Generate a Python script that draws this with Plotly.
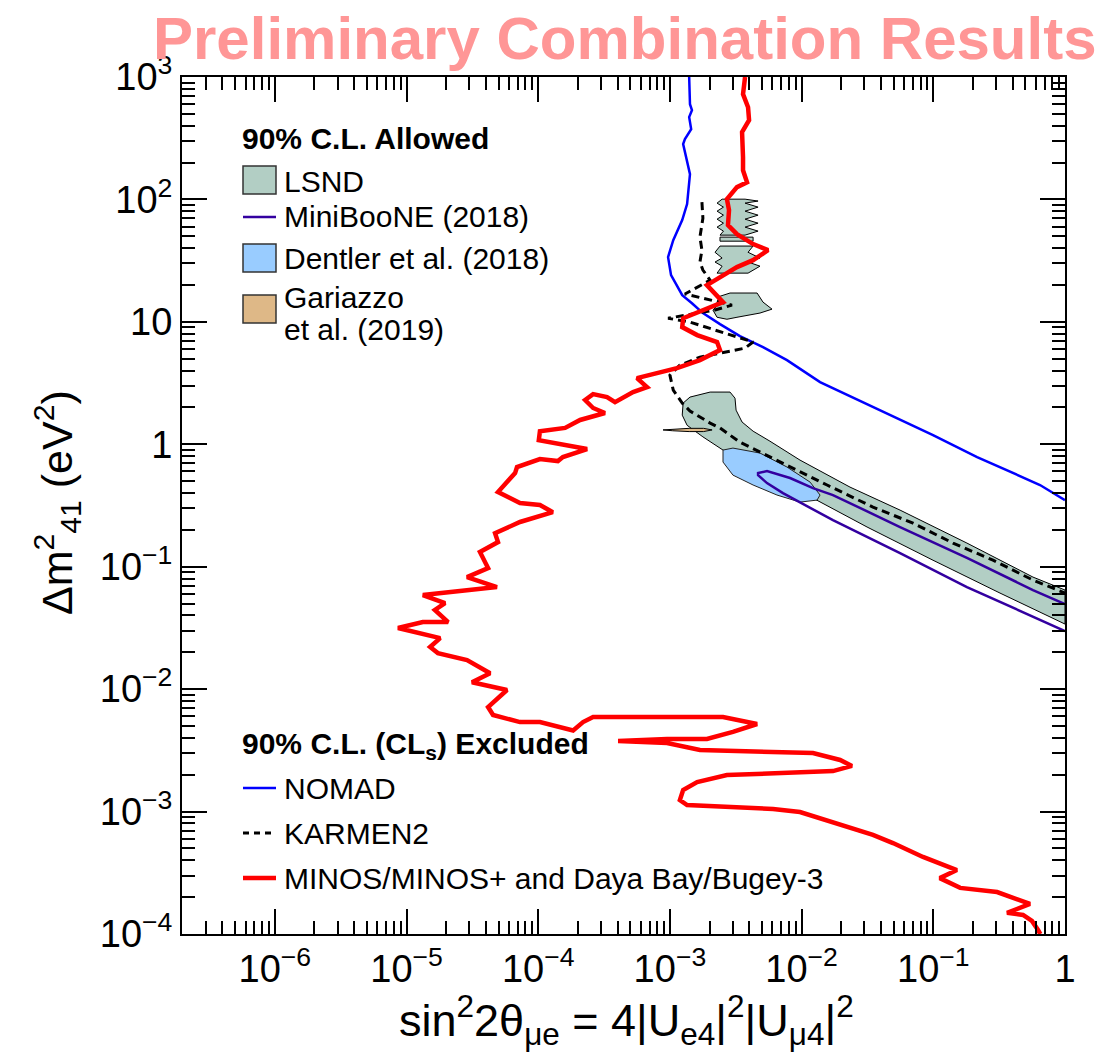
import plotly.graph_objects as go

FONT = "Liberation Sans, Arial, Helvetica, sans-serif"

# ---------------- data (sin^2 2theta, dm^2 [eV^2]) ----------------
minos_x = [3.72e-3, 3.59e-3, 3.92e-3, 3.99e-3, 3.53e-3, 3.59e-3, 3.59e-3, 3.59e-3, 3.85e-3, 3.23e-3,
           2.71e-3, 2.81e-3, 2.76e-3, 3.23e-3, 4.28e-3, 5.56e-3, 4.28e-3, 3.23e-3, 1.91e-3, 2.53e-3,
           1.69e-3, 1.26e-3, 1.24e-3, 1.61e-3, 2.28e-3, 2.40e-3, 1.69e-3, 1.13e-3, 5.62e-4, 6.70e-4,
           5.25e-4, 3.83e-4, 3.33e-4, 2.61e-4, 2.27e-4, 2.61e-4, 3.21e-4, 2.08e-4, 1.60e-4, 1.03e-4,
           1.01e-4, 1.39e-4, 2.35e-4, 1.54e-4, 1.41e-4, 1.03e-4, 6.90e-5, 6.67e-5, 4.95e-5, 7.27e-5,
           1.03e-4, 1.29e-4, 7.27e-5, 4.70e-5, 4.95e-5, 3.61e-5, 4.16e-5, 2.88e-5, 4.86e-5, 1.33e-5,
           1.96e-5, 1.64e-5, 2.07e-5, 1.33e-5, 8.61e-6, 1.80e-5, 1.51e-5, 1.73e-5, 2.88e-5, 4.31e-5,
           3.14e-5, 5.79e-5, 4.16e-5, 4.54e-5, 7.27e-5, 1.03e-4, 1.84e-4, 2.19e-4, 2.61e-4, 2.53e-3,
           4.59e-3, 3.01e-3, 1.91e-3, 9.51e-4, 4.04e-4, 9.51e-4, 1.69e-3, 1.22e-2, 1.96e-2, 2.41e-2,
           1.73e-2, 2.71e-3, 1.61e-3, 1.26e-3, 1.19e-3, 1.35e-3, 6.07e-3, 9.72e-3, 1.73e-2, 3.48e-2,
           4.94e-2, 8.35e-2, 0.151, 0.112, 0.160, 0.305, 0.542, 0.363, 0.480, 0.561,
           0.624, 0.65]
minos_y = [1000, 724, 567, 444, 355, 283, 221, 173, 138, 126,
           100.5, 81.8, 61.7, 52.1, 43.2, 38.5, 31.9, 28.0, 19.95, 14.5,
           12.0, 10.7, 9.06, 7.80, 6.84, 5.88, 4.87, 4.19, 3.47, 2.93,
           2.67, 2.21, 2.43, 2.57, 2.30, 1.98, 1.80, 1.58, 1.36, 1.28,
           1.08, 1.02, 0.914, 0.786, 0.729, 0.757, 0.652, 0.582, 0.407, 0.331,
           0.319, 0.279, 0.232, 0.188, 0.159, 0.132, 0.0975, 0.0823, 0.0682, 0.0587,
           0.0505, 0.0443, 0.0353, 0.0353, 0.0316, 0.0261, 0.0221, 0.0197, 0.0173, 0.0135,
           0.0114, 0.00984, 0.00714, 0.00615, 0.00538, 0.00538, 0.00460, 0.00538, 0.00592, 0.00592,
           0.00519, 0.00447, 0.00392, 0.00392, 0.00377, 0.00363, 0.00318, 0.00301, 0.00264, 0.00236,
           0.00214, 0.00199, 0.00174, 0.00150, 0.00124, 0.00113, 0.00105, 0.000991, 0.000822, 0.000644,
           0.000553, 0.000426, 0.000333, 0.000286, 0.000238, 0.000220, 0.000176, 0.000149, 0.000143, 0.000128,
           0.000108, 0.0001]

nomad_x = [1.40e-3, 1.42e-3, 1.47e-3, 1.40e-3, 1.45e-3, 1.30e-3, 1.26e-3, 1.35e-3, 1.42e-3, 1.35e-3,
           1.24e-3, 1.06e-3, 9.68e-4, 1.02e-3, 1.24e-3, 1.47e-3, 1.78e-3, 2.40e-3, 3.40e-3, 5.09e-3,
           7.74e-3, 1.38e-2, 5.59e-2, 9.95e-2, 0.215, 0.646, 1.0]
nomad_y = [1000, 600, 536, 470, 375, 311, 283, 209, 161, 91.6,
           67.8, 46.5, 33.8, 24.1, 16.5, 14.2, 11.8, 9.59, 7.65, 6.22,
           4.87, 3.22, 1.58, 1.19, 0.786, 0.465, 0.350]

karmen_x = [1.75e-3, 1.78e-3, 1.69e-3, 1.75e-3, 1.69e-3, 1.78e-3, 2.02e-3, 1.30e-3, 2.96e-3, 2.20e-3,
            9.68e-4, 1.42e-3, 4.28e-3, 3.72e-3, 1.69e-3, 1.19e-3, 1.00e-3, 1.06e-3, 1.24e-3, 1.42e-3,
            2.02e-3, 2.40e-3, 3.40e-3, 6.86e-3, 1.56e-2, 3.48e-2, 7.01e-2, 0.141, 0.284, 0.571,
            1.0]
karmen_y = [95.1, 70.3, 49.2, 38.5, 30.8, 26.5, 21.9, 16.9, 13.7, 12.5,
            10.7, 9.95, 6.84, 6.10, 5.15, 4.43, 3.67, 2.77, 2.17, 1.87,
            1.49, 1.36, 1.04, 0.716, 0.465, 0.307, 0.227, 0.156, 0.113, 0.0778,
            0.0609]

lsnd_band_x = [1.26e-3, 1.42e-3, 2.02e-3, 2.86e-3, 3.12e-3, 3.18e-3, 3.53e-3, 4.28e-3, 5.75e-3, 9.72e-3,
               2.33e-2, 5.59e-2, 0.180, 0.571, 1.0, 1.0, 0.321, 9.95e-2, 3.14e-2, 1.38e-2,
               2.53e-3, 1.78e-3, 1.35e-3, 1.24e-3, 1.26e-3]
lsnd_band_y = [2.17, 2.43, 2.67, 2.67, 2.38, 1.90, 1.52, 1.28, 1.06, 0.743,
               0.447, 0.290, 0.156, 0.0823, 0.0645, 0.0340, 0.0609, 0.113, 0.211, 0.337,
               0.897, 1.15, 1.43, 1.73, 2.17]

lsnd_mid_x = [2.28e-3, 2.86e-3, 4.59e-3, 5.09e-3, 5.96e-3, 4.83e-3, 3.23e-3, 2.71e-3, 2.28e-3, 2.12e-3, 2.40e-3, 2.28e-3]
lsnd_mid_y = [15.9, 17.2, 17.2, 14.5, 12.7, 11.8, 10.9, 10.5, 10.9, 12.5, 14.2, 15.9]

lsnd_top_x = [2.49e-3, 2.28e-3, 2.55e-3, 2.28e-3, 2.55e-3, 2.28e-3, 2.55e-3, 2.28e-3, 2.55e-3, 2.40e-3,
              3.72e-3, 4.67e-3, 3.72e-3, 4.67e-3, 3.72e-3, 4.67e-3, 3.72e-3, 4.67e-3, 3.72e-3, 4.67e-3,
              3.72e-3, 2.49e-3]
lsnd_top_y = [100.5, 93.3, 86.5, 80.2, 74.4, 69.0, 64.0, 59.4, 55.1, 51.1,
              51.1, 55.1, 59.4, 64.0, 69.0, 74.4, 80.2, 86.5, 93.3, 97.0,
              100.5, 100.5]

lsnd_thin_x = [2.40e-3, 4.28e-3, 4.28e-3, 2.40e-3, 2.40e-3]
lsnd_thin_y = [49.2, 49.2, 45.6, 45.6, 49.2]

lsnd_low_x = [2.40e-3, 2.20e-3, 2.49e-3, 2.20e-3, 2.49e-3, 2.28e-3, 3.92e-3, 4.83e-3, 3.92e-3, 4.83e-3, 3.92e-3, 4.28e-3, 2.40e-3]
lsnd_low_y = [41.6, 37.0, 33.2, 30.8, 28.5, 25.0, 25.0, 28.5, 30.8, 33.2, 37.0, 41.6, 41.6]

dentler_x = [2.53e-3, 3.01e-3, 4.83e-3, 7.74e-3, 1.16e-2, 1.38e-2, 1.31e-2, 9.72e-3, 6.50e-3, 4.28e-3, 3.01e-3, 2.53e-3, 2.53e-3]
dentler_y = [0.897, 0.931, 0.848, 0.652, 0.491, 0.385, 0.350, 0.337, 0.385, 0.465, 0.560, 0.716, 0.897]

miniboone_x = [1.0, 0.571, 0.180, 5.59e-2, 1.73e-2, 1.22e-2, 8.17e-3, 5.46e-3, 4.67e-3,
               4.67e-3, 5.46e-3, 7.22e-3, 1.73e-2, 5.59e-2, 0.180, 0.571, 1.0]
miniboone_y = [0.0495, 0.0645, 0.118, 0.211, 0.385, 0.439, 0.530, 0.604, 0.582,
               0.560, 0.482, 0.399, 0.240, 0.129, 0.0682, 0.0388, 0.0298]

gariazzo_x = [8.87e-4, 1.05e-3, 1.40e-3, 1.80e-3, 2.09e-3, 1.80e-3, 1.40e-3, 1.05e-3, 8.87e-4]
gariazzo_y = [1.31, 1.33, 1.35, 1.35, 1.31, 1.27, 1.27, 1.29, 1.31]

x_tick_vals = [1e-6, 1e-5, 1e-4, 1e-3, 1e-2, 1e-1, 1]
x_tick_text = ["10<sup>\u22126</sup>", "10<sup>\u22125</sup>", "10<sup>\u22124</sup>", "10<sup>\u22123</sup>",
               "10<sup>\u22122</sup>", "10<sup>\u22121</sup>", "1"]
y_tick_vals = [1e-4, 1e-3, 1e-2, 1e-1, 1, 10, 100, 1000]
y_tick_text = ["10<sup>\u22124</sup>", "10<sup>\u22123</sup>", "10<sup>\u22122</sup>", "10<sup>\u22121</sup>",
               "1", "10", "10<sup>2</sup>", "10<sup>3</sup>"]

# ---------------- colours ----------------
LSND_C = "#b2cec4"
DENTLER_C = "#99ccff"
GARIAZZO_C = "#deb887"
MB_C = "#3300a0"
NOMAD_C = "#0000ff"
MINOS_C = "#ff0000"
TITLE_C = "#ff9696"

# ---------------- geometry (pixels of plot frame) ----------------
W, H = 1101, 1058
L, R, T, B = 182, 1065, 77, 934


def pxx(p):
    return (p - L) / (R - L)


def pxy(p):
    return (B - p) / (B - T)


fig = go.Figure()

for xs, ys in [(lsnd_band_x, lsnd_band_y), (lsnd_mid_x, lsnd_mid_y), (lsnd_top_x, lsnd_top_y),
               (lsnd_thin_x, lsnd_thin_y), (lsnd_low_x, lsnd_low_y)]:
    fig.add_trace(go.Scatter(x=xs, y=ys, mode="lines", fill="toself", fillcolor=LSND_C,
                             line=dict(color="black", width=1), showlegend=False, hoverinfo="skip"))

fig.add_trace(go.Scatter(x=dentler_x, y=dentler_y, mode="lines", fill="toself", fillcolor=DENTLER_C,
                         line=dict(color="#222222", width=1), showlegend=False, hoverinfo="skip"))
fig.add_trace(go.Scatter(x=gariazzo_x, y=gariazzo_y, mode="lines", fill="toself", fillcolor=GARIAZZO_C,
                         line=dict(color="black", width=1), showlegend=False, hoverinfo="skip"))
fig.add_trace(go.Scatter(x=miniboone_x, y=miniboone_y, mode="lines",
                         line=dict(color=MB_C, width=2.5), showlegend=False, hoverinfo="skip"))
fig.add_trace(go.Scatter(x=nomad_x, y=nomad_y, mode="lines",
                         line=dict(color=NOMAD_C, width=2.5), showlegend=False, hoverinfo="skip"))
fig.add_trace(go.Scatter(x=karmen_x, y=karmen_y, mode="lines",
                         line=dict(color="black", width=3, dash="8px,5px"), showlegend=False, hoverinfo="skip"))
fig.add_trace(go.Scatter(x=minos_x, y=minos_y, mode="lines",
                         line=dict(color=MINOS_C, width=4.5), showlegend=False, hoverinfo="skip"))

axis_common = dict(
    type="log", ticks="inside", ticklen=25, tickwidth=1.5, tickcolor="black",
    showline=True, linewidth=2, linecolor="black", mirror="allticks",
    showgrid=False, zeroline=False,
    tickfont=dict(size=38, family=FONT, color="black"),
    minor=dict(ticks="inside", ticklen=13, tickwidth=1.5, tickcolor="black", dtick="D1", showgrid=False),
)

fig.update_layout(
    width=W, height=H,
    margin=dict(l=L, r=W - R, t=T, b=H - B, pad=0),
    paper_bgcolor="white", plot_bgcolor="white",
    font=dict(family=FONT, color="black"),
    showlegend=False,
    xaxis=dict(range=[-6.705, 0], tickmode="array", tickvals=x_tick_vals, ticktext=x_tick_text, **axis_common),
    yaxis=dict(range=[-4, 3], tickmode="array", tickvals=y_tick_vals, ticktext=y_tick_text, **axis_common),
)

# ---------------- legend (manual) ----------------
shapes = []
box_x0, box_x1 = pxx(243), pxx(276)
for (y0, y1, col) in [(166, 194, LSND_C), (244, 272, DENTLER_C), (295, 323, GARIAZZO_C)]:
    shapes.append(dict(type="rect", xref="paper", yref="paper", x0=box_x0, x1=box_x1,
                       y0=pxy(y1), y1=pxy(y0), fillcolor=col, line=dict(color="#333333", width=1.5)))
for (yy, col, w, dash) in [(217, MB_C, 2.5, "solid"), (788, NOMAD_C, 2.5, "solid"),
                           (833, "black", 3, "6px,5px"), (878, MINOS_C, 4.5, "solid")]:
    shapes.append(dict(type="line", xref="paper", yref="paper", x0=box_x0, x1=box_x1,
                       y0=pxy(yy), y1=pxy(yy), line=dict(color=col, width=w, dash=dash)))

annotations = []
LEG_FS = 30
for (txt, yy, bold, xp) in [
    ("<b>90% C.L. Allowed</b>", 138, True, 240),
    ("LSND", 181, False, 282),
    ("MiniBooNE (2018)", 217, False, 282),
    ("Dentler et al. (2018)", 258, False, 282),
    ("Gariazzo", 297, False, 282),
    ("et al. (2019)", 329, False, 282),
    ("<b>90% C.L. (CL<sub>s</sub>) Excluded</b>", 745, True, 240),
    ("NOMAD", 788, False, 282),
    ("KARMEN2", 833, False, 282),
    ("MINOS/MINOS+ and Daya Bay/Bugey-3", 878, False, 282),
]:
    annotations.append(dict(text=txt, xref="paper", yref="paper", x=pxx(xp), y=pxy(yy),
                            xanchor="left", yanchor="middle", showarrow=False,
                            font=dict(size=LEG_FS, family=FONT, color="black")))

# titles
annotations.append(dict(text="<b>Preliminary Combination Results</b>", xref="paper", yref="paper",
                        x=pxx(625), y=pxy(38), xanchor="center", yanchor="middle", showarrow=False,
                        font=dict(size=60, family=FONT, color=TITLE_C)))
annotations.append(dict(text="sin<sup>2</sup>2\u03b8<sub>\u03bce</sub> = 4|U<sub>e4</sub>|<sup>2</sup>|U<sub>\u03bc4</sub>|<sup>2</sup>",
                        xref="paper", yref="paper", x=pxx(626), y=pxy(1020), xanchor="center", yanchor="middle",
                        showarrow=False, font=dict(size=45, family=FONT, color="black")))
annotations.append(dict(text="\u0394m<sup>2</sup><sub>41</sub> (eV<sup>2</sup>)",
                        xref="paper", yref="paper", x=pxx(57), y=pxy(503), xanchor="center", yanchor="middle",
                        textangle=-90, showarrow=False, font=dict(size=43, family=FONT, color="black")))

fig.update_layout(shapes=shapes, annotations=annotations)

fig.write_html("out.html", config={"displayModeBar": False},
               post_script="document.body.style.margin='0';")
